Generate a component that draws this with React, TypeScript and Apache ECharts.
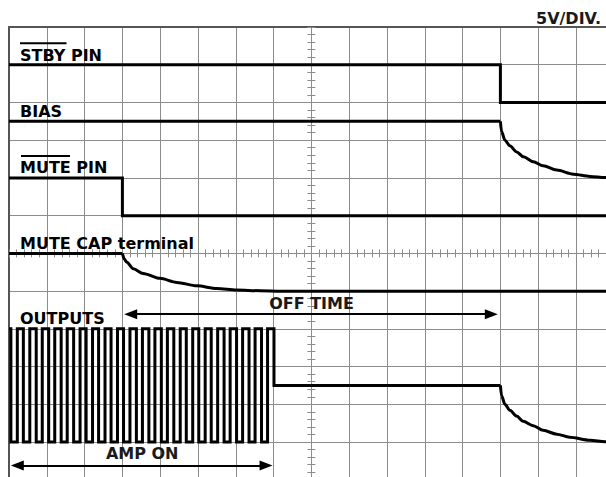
import React, { useEffect, useRef } from "react";
import * as echarts from "echarts";

// ---- Data (time in divisions, level in divisions from top; 5 V / div) ----
const xRange = [0, 16];
const yRange = [0, 12];

const stbyPin = [[0, 1], [13, 1], [13, 2], [16, 2]];
const biasStep = [[0, 2.5], [13, 2.5]];
const biasDecay = [[13, 2.5], [13.03, 2.77], [13.12, 3.0], [13.25, 3.15], [13.43, 3.31], [13.61, 3.44], [13.87, 3.57], [14.13, 3.68], [14.49, 3.79], [14.93, 3.9], [15.37, 3.96], [15.77, 3.99], [16, 4.0]];
const mutePin = [[0, 4], [3, 4], [3, 5], [16, 5]];
const muteCapStep = [[0, 6], [3, 6]];
const muteCapDecay = [[3, 6], [3.05, 6.15], [3.11, 6.23], [3.29, 6.41], [3.55, 6.53], [3.99, 6.66], [4.44, 6.77], [4.97, 6.86], [5.5, 6.93], [6.02, 6.97], [6.64, 6.99], [7.2, 7.0], [16, 7.0]];

const outputsHigh = 8;
const outputsLow = 11;
const outputsIdle = 9.5;
const outputsFalling = [0.05, 0.38, 0.72, 1.05, 1.38, 1.71, 2.04, 2.37, 2.7, 3.03, 3.37, 3.7, 4.03, 4.36, 4.69, 5.02, 5.35, 5.69, 6.02, 6.35, 6.68, 7.01];
const outputsRising = [0.22, 0.55, 0.88, 1.21, 1.54, 1.88, 2.21, 2.54, 2.87, 3.2, 3.53, 3.86, 4.19, 4.53, 4.86, 5.19, 5.52, 5.85, 6.18, 6.51, 6.84];
const outputsIdleEnd = 13;
const outputsDecay = [[13, 9.5], [13.03, 9.77], [13.12, 10.0], [13.25, 10.16], [13.43, 10.31], [13.6, 10.45], [13.87, 10.57], [14.13, 10.69], [14.49, 10.79], [14.83, 10.87], [15.37, 10.95], [15.77, 10.99], [16, 11.0]];

// arrows: [start, end] (arrowhead centres) and level
const offTimeSpan = [3.22, 12.76];
const offTimeLevel = 7.61;
const ampOnSpan = [0.22, 6.8];
const ampOnLevel = 11.62;

const labels = ["STBY PIN", "BIAS", "MUTE PIN", "MUTE CAP terminal", "OUTPUTS"];
const scaleLabel = "5V/DIV.";

function buildOutputs(): number[][] {
  const pts: number[][] = [[0, outputsHigh]];
  for (let k = 0; k < outputsFalling.length; k++) {
    const f = outputsFalling[k];
    const last = k === outputsFalling.length - 1;
    pts.push([f, outputsHigh]);
    pts.push([f, last ? outputsIdle : outputsLow]);
    if (!last) {
      const r = outputsRising[k];
      pts.push([r, outputsLow]);
      pts.push([r, outputsHigh]);
    }
  }
  pts.push([outputsIdleEnd, outputsIdle]);
  return pts;
}

const FONT = 'bold 16px "DejaVu Sans", Verdana, sans-serif';
const GRID_COLOR = "#8c8c8c";

export default function App() {
  const ref = useRef<HTMLDivElement>(null);

  useEffect(() => {
    if (!ref.current) return;
    const chart = echarts.init(ref.current, undefined, { renderer: "svg" });

    const sig = (name: string, data: number[][], smooth = false) => ({
      type: "line",
      name,
      data,
      symbol: "none",
      showSymbol: false,
      silent: true,
      smooth: smooth ? 0.3 : false,
      smoothMonotone: "x",
      z: 3,
      lineStyle: { color: "#000", width: 3, join: "miter", cap: "butt" },
      emphasis: { disabled: true },
    });

    const centerAxisX = (inside: boolean) => ({
      type: "value",
      min: -8,
      max: 8,
      interval: 1,
      position: "bottom",
      axisLine: { show: true, onZero: true, onZeroAxisIndex: 1, lineStyle: { color: GRID_COLOR, width: 1 } },
      axisTick: { show: true, inside, length: 4, lineStyle: { color: GRID_COLOR, width: 1 } },
      minorTick: { show: true, splitNumber: 5, length: 4, lineStyle: { color: GRID_COLOR, width: 1 } },
      axisLabel: { show: false },
      splitLine: { show: false },
    });
    const centerAxisY = (inside: boolean) => ({
      type: "value",
      min: -6,
      max: 6,
      interval: 1,
      position: "left",
      axisLine: { show: true, onZero: true, onZeroAxisIndex: 1, lineStyle: { color: GRID_COLOR, width: 1 } },
      axisTick: { show: true, inside, length: 4, lineStyle: { color: GRID_COLOR, width: 1 } },
      minorTick: { show: true, splitNumber: 5, length: 4, lineStyle: { color: GRID_COLOR, width: 1 } },
      axisLabel: { show: false },
      splitLine: { show: false },
    });

    const option: any = {
      animation: false,
      backgroundColor: "#fff",
      grid: { left: 9, top: 27, width: 604.8, height: 452.8, containLabel: false, outerBoundsMode: "none" },
      xAxis: [
        {
          type: "value",
          min: xRange[0],
          max: xRange[1],
          interval: 1,
          position: "top",
          axisLine: { show: true, onZero: false, lineStyle: { color: "#555", width: 2 } },
          axisTick: { show: false },
          axisLabel: { show: false },
          splitLine: { show: true, lineStyle: { color: GRID_COLOR, width: 1 } },
        },
        centerAxisX(false),
        centerAxisX(true),
      ],
      yAxis: [
        {
          type: "value",
          min: yRange[0],
          max: yRange[1],
          interval: 1,
          inverse: true,
          position: "left",
          axisLine: { show: true, onZero: false, lineStyle: { color: "#555", width: 2 } },
          axisTick: { show: false },
          axisLabel: { show: false },
          splitLine: { show: true, lineStyle: { color: GRID_COLOR, width: 1 } },
        },
        centerAxisY(false),
        centerAxisY(true),
      ],
      series: [
        {
          ...sig("STBY PIN", stbyPin),
          markLine: {
            silent: true,
            symbol: ["triangle", "triangle"],
            symbolSize: [10, 13],
            label: { show: false },
            emphasis: { disabled: true },
            lineStyle: { color: "#000", width: 2, type: "solid" },
            data: [
              [{ coord: [offTimeSpan[0], offTimeLevel] }, { coord: [offTimeSpan[1], offTimeLevel] }],
              [{ coord: [ampOnSpan[0], ampOnLevel] }, { coord: [ampOnSpan[1], ampOnLevel] }],
            ],
          },
        },
        sig("BIAS", biasStep),
        sig("BIAS decay", biasDecay, true),
        sig("MUTE PIN", mutePin),
        sig("MUTE CAP terminal", muteCapStep),
        sig("MUTE CAP decay", muteCapDecay, true),
        sig("OUTPUTS", buildOutputs()),
        sig("OUTPUTS decay", outputsDecay, true),
      ],
      graphic: [
        { type: "text", z: 100, x: 20, y: 55.5, style: { text: labels[0], font: FONT, fill: "#000", align: "left", verticalAlign: "middle" } },
        { type: "line", z: 100, shape: { x1: 20, y1: 43.3, x2: 66.5, y2: 43.3 }, style: { stroke: "#000", lineWidth: 2 } },
        { type: "text", z: 100, x: 20, y: 111.8, style: { text: labels[1], font: FONT, fill: "#000", align: "left", verticalAlign: "middle" } },
        { type: "text", z: 100, x: 20, y: 167.8, style: { text: labels[2], font: FONT, fill: "#000", align: "left", verticalAlign: "middle" } },
        { type: "line", z: 100, shape: { x1: 21, y1: 156, x2: 70, y2: 156 }, style: { stroke: "#000", lineWidth: 2 } },
        { type: "text", z: 100, x: 20, y: 243.8, style: { text: labels[3], font: FONT, fill: "#000", align: "left", verticalAlign: "middle" } },
        { type: "text", z: 100, x: 20, y: 318.8, style: { text: labels[4], font: FONT, fill: "#000", align: "left", verticalAlign: "middle" } },
        { type: "text", z: 100, x: 311.5, y: 303.2, style: { text: "OFF TIME", font: FONT, fill: "#1a1a1a", align: "center", verticalAlign: "middle" } },
        { type: "text", z: 100, x: 142.2, y: 453.2, style: { text: "AMP ON", font: FONT, fill: "#1a1a1a", align: "center", verticalAlign: "middle" } },
        { type: "text", z: 100, x: 601, y: 18.5, style: { text: scaleLabel, font: FONT, fill: "#1a1a1a", align: "right", verticalAlign: "middle" } },
      ],
    };

    chart.setOption(option);
    return () => chart.dispose();
  }, []);

  return (
    <div
      ref={ref}
      style={{ position: "absolute", left: 0, top: 0, width: 606, height: 477, background: "#fff" }}
    />
  );
}
